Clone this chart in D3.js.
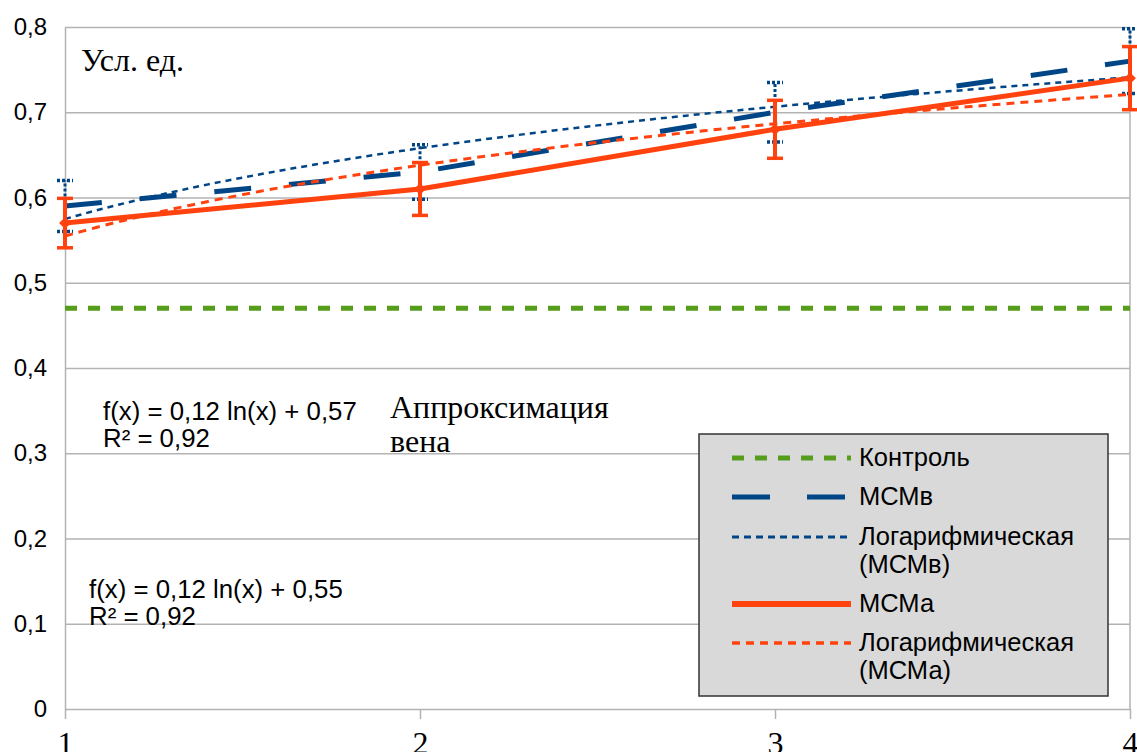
<!DOCTYPE html>
<html>
<head>
<meta charset="utf-8">
<script src="https://cdn.jsdelivr.net/npm/d3@7"></script>
<style>
  body { margin: 0; background: #fff; }
  svg { display: block; }
  .sans { font-family: 'Liberation Sans', Arial, sans-serif; }
  .serif { font-family: 'Liberation Serif', 'Times New Roman', serif; }
</style>
</head>
<body>
<div id="chart"></div>
<script>
// Data
const days = [1, 2, 3, 4];
const control = [0.47, 0.47, 0.47, 0.47];
const mcmV = [0.59, 0.63, 0.70, 0.76];
const mcmA = [0.57, 0.61, 0.68, 0.74];
const errV = [0.03, 0.032, 0.035, 0.038];
const errA = [0.029, 0.031, 0.034, 0.037];
const yTicks = [0, 0.1, 0.2, 0.3, 0.4, 0.5, 0.6, 0.7, 0.8];

const colors = {
  control: '#579d1c',
  v: '#004586',
  a: '#ff420e',
};

// least squares fit of y = a*ln(x) + b
function logRegression(y, x) {
  const lx = x.map((v) => Math.log(v));
  const n = y.length;
  const mx = d3.mean(lx);
  const my = d3.mean(y);
  let sxy = 0;
  let sxx = 0;
  let syy = 0;
  for (let i = 0; i < n; i++) {
    sxy += (lx[i] - mx) * (y[i] - my);
    sxx += (lx[i] - mx) ** 2;
    syy += (y[i] - my) ** 2;
  }
  const slope = sxy / sxx;
  return { slope, intercept: my - slope * mx, r2: (sxy * sxy) / (sxx * syy) };
}

const comma = (v) => d3.format('.2f')(v).replace('.', ',');

const cfg = {
  width: 1137,
  height: 752,
  left: 65,
  right: 1130,
  top: 27,
  bottom: 709,
};

const svg = d3.select('#chart').append('svg')
  .attr('width', cfg.width)
  .attr('height', cfg.height);

const x = d3.scaleLinear().domain([1, 4]).range([cfg.left, cfg.right]);
const y = d3.scaleLinear().domain([0, 0.8]).range([cfg.bottom, cfg.top]);

// y axis with gridlines
const yAxisG = svg.append('g')
  .attr('transform', `translate(${cfg.left},0)`)
  .call(d3.axisLeft(y)
    .tickValues(yTicks)
    .tickSize(-(cfg.right - cfg.left))
    .tickSizeOuter(0)
    .tickPadding(18)
    .tickFormat((d) => (d === 0 ? '0' : d.toFixed(1).replace('.', ','))));
yAxisG.selectAll('line').attr('stroke', '#b3b3b3').attr('stroke-width', 1.5);
yAxisG.select('.domain').attr('stroke', '#b3b3b3').attr('stroke-width', 1.5);
yAxisG.selectAll('text')
  .attr('class', 'sans')
  .attr('font-size', 24)
  .attr('fill', '#000');

svg.append('line')
  .attr('x1', cfg.right).attr('x2', cfg.right)
  .attr('y1', cfg.top).attr('y2', cfg.bottom)
  .attr('stroke', '#b3b3b3')
  .attr('stroke-width', 1.5);

const xAxisG = svg.append('g')
  .attr('transform', `translate(0,${cfg.bottom})`)
  .call(d3.axisBottom(x).tickValues(days).tickSize(10).tickPadding(12).tickFormat(d3.format('d')));
xAxisG.select('.domain').remove();
xAxisG.selectAll('line').attr('stroke', '#b3b3b3').attr('stroke-width', 1.5);
xAxisG.selectAll('text')
  .attr('class', 'serif')
  .attr('font-size', 32)
  .attr('fill', '#000');

const line = d3.line()
  .x((d) => x(d[0]))
  .y((d) => y(d[1]));

const pairs = (vals) => days.map((d, i) => [d, vals[i]]);

function trendPoints(vals) {
  const fit = logRegression(vals, days);
  const pts = d3.range(1, 4.0001, 0.05).map((t) => [t, fit.slope * Math.log(t) + fit.intercept]);
  return { fit, pts };
}

// control
svg.append('path')
  .datum(pairs(control))
  .attr('d', line)
  .attr('fill', 'none')
  .attr('stroke', colors.control)
  .attr('stroke-width', 5)
  .attr('stroke-dasharray', '12,11');

function errorBars(vals, errs, color, dotted, width) {
  const g = svg.append('g');
  const data = days.map((d, i) => ({ d, v: vals[i], e: errs[i] }));
  const dash = dotted ? '3,2' : null;
  g.selectAll('.eb-v').data(data).enter().append('line')
    .attr('x1', (p) => x(p.d)).attr('x2', (p) => x(p.d))
    .attr('y1', (p) => y(p.v - p.e)).attr('y2', (p) => y(p.v + p.e))
    .attr('stroke', color)
    .attr('stroke-width', width)
    .attr('stroke-dasharray', dash);
  ['top', 'bot'].forEach((k) => {
    g.selectAll(`.eb-${k}`).data(data).enter().append('line')
      .attr('x1', (p) => x(p.d) - 8).attr('x2', (p) => x(p.d) + 8)
      .attr('y1', (p) => y(k === 'top' ? p.v + p.e : p.v - p.e))
      .attr('y2', (p) => y(k === 'top' ? p.v + p.e : p.v - p.e))
      .attr('stroke', color)
      .attr('stroke-width', 3.5)
      .attr('stroke-dasharray', dash);
  });
}

// MCMв
const trendV = trendPoints(mcmV);
errorBars(mcmV, errV, colors.v, true, 3);
svg.append('path')
  .datum(pairs(mcmV))
  .attr('d', line)
  .attr('fill', 'none')
  .attr('stroke', colors.v)
  .attr('stroke-width', 5)
  .attr('stroke-dasharray', '37,38');
svg.append('path')
  .datum(trendV.pts)
  .attr('d', line)
  .attr('fill', 'none')
  .attr('stroke', colors.v)
  .attr('stroke-width', 2.5)
  .attr('stroke-dasharray', '6,5');

// MCMа
const trendA = trendPoints(mcmA);
errorBars(mcmA, errA, colors.a, false, 4);
svg.append('path')
  .datum(pairs(mcmA))
  .attr('d', line)
  .attr('fill', 'none')
  .attr('stroke', colors.a)
  .attr('stroke-width', 5);
svg.selectAll('.marker-a')
  .data(pairs(mcmA))
  .enter()
  .append('path')
  .attr('class', 'marker-a')
  .attr('d', d3.symbol(d3.symbolSquare, 70))
  .attr('transform', (d) => `translate(${x(d[0])},${y(d[1])}) rotate(45)`)
  .attr('fill', colors.a);
svg.append('path')
  .datum(trendA.pts)
  .attr('d', line)
  .attr('fill', 'none')
  .attr('stroke', colors.a)
  .attr('stroke-width', 3)
  .attr('stroke-dasharray', '8,6');

// annotations
svg.append('text')
  .attr('class', 'serif')
  .attr('x', 81).attr('y', 71)
  .attr('font-size', 32)
  .text('Усл. ед.');

const approx = svg.append('text')
  .attr('class', 'serif')
  .attr('font-size', 32)
  .attr('x', 390).attr('y', 418);
approx.append('tspan').attr('x', 390).text('Аппроксимация');
approx.append('tspan').attr('x', 390).attr('dy', 34).text('вена');

function eqLabel(fit, px, py) {
  const t = svg.append('text')
    .attr('class', 'sans')
    .attr('font-size', 25.8)
    .attr('x', px).attr('y', py);
  t.append('tspan').attr('x', px).text(`f(x) = ${comma(fit.slope)} ln(x) + ${comma(fit.intercept)}`);
  t.append('tspan').attr('x', px).attr('dy', 27).text(`R² = ${comma(fit.r2)}`);
}
eqLabel(trendV.fit, 103, 420);
eqLabel(trendA.fit, 89, 598);

// legend
const legendItems = [
  { label: ['Контроль'], color: colors.control, width: 5, dash: '12,11', ly: 458 },
  { label: ['МСМв'], color: colors.v, width: 5, dash: '38,37', ly: 497 },
  { label: ['Логарифмическая', '(МСМв)'], color: colors.v, width: 3, dash: '7,5', ly: 537 },
  { label: ['МСМа'], color: colors.a, width: 6, dash: null, ly: 604 },
  { label: ['Логарифмическая', '(МСМа)'], color: colors.a, width: 3.5, dash: '8,6', ly: 643 },
];

const legend = svg.append('g');
legend.append('rect')
  .attr('x', 699).attr('y', 434)
  .attr('width', 409).attr('height', 262)
  .attr('fill', '#d9d9d9')
  .attr('stroke', '#333')
  .attr('stroke-width', 1.5);

legendItems.forEach((it) => {
  legend.append('line')
    .attr('x1', 732).attr('x2', 851)
    .attr('y1', it.ly).attr('y2', it.ly)
    .attr('stroke', it.color)
    .attr('stroke-width', it.width)
    .attr('stroke-dasharray', it.dash);
  const t = legend.append('text')
    .attr('class', 'sans')
    .attr('font-size', 25.5)
    .attr('x', 859).attr('y', it.ly + 8);
  it.label.forEach((s, i) => {
    t.append('tspan').attr('x', 859).attr('dy', i === 0 ? 0 : 28).text(s);
  });
});
</script>
</body>
</html>
